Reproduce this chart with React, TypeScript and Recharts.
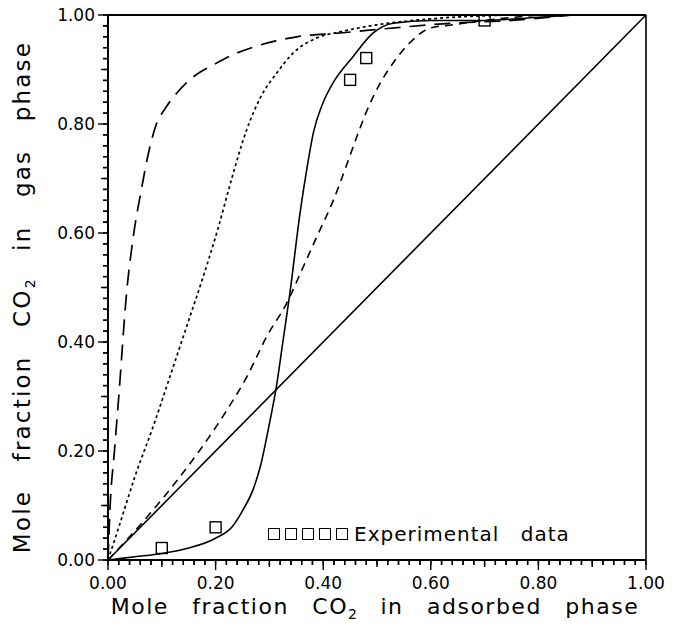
import React from 'react';
import { ComposedChart, Line, XAxis, YAxis, ReferenceLine } from 'recharts';

// diagonal x = y
const diagX = [0, 1];
const diagY = [0, 1];

// solid model curve
const solidX = [0, 0.05, 0.1, 0.15, 0.2, 0.23, 0.251, 0.27, 0.283, 0.3, 0.313, 0.325, 0.338, 0.357, 0.37, 0.382, 0.398, 0.418, 0.455, 0.493, 0.53, 0.6, 0.7, 0.8, 0.87];
const solidY = [0, 0.006, 0.012, 0.022, 0.04, 0.06, 0.092, 0.13, 0.171, 0.25, 0.318, 0.4, 0.489, 0.637, 0.72, 0.785, 0.835, 0.875, 0.923, 0.967, 0.985, 0.99, 0.99, 0.996, 1.0];

// long dashed curve
const longX = [0, 0.004, 0.012, 0.02, 0.035, 0.047, 0.063, 0.076, 0.09, 0.106, 0.128, 0.158, 0.195, 0.232, 0.27, 0.31, 0.351, 0.431, 0.55, 0.64, 0.75, 0.86];
const longY = [0, 0.1, 0.2, 0.3, 0.495, 0.593, 0.685, 0.75, 0.8, 0.828, 0.857, 0.886, 0.908, 0.927, 0.941, 0.952, 0.96, 0.967, 0.978, 0.985, 0.99, 1.0];

// dotted curve
const dotX = [0, 0.02, 0.05, 0.084, 0.115, 0.146, 0.177, 0.205, 0.23, 0.258, 0.283, 0.314, 0.344, 0.388, 0.431, 0.5, 0.6, 0.75];
const dotY = [0, 0.06, 0.153, 0.245, 0.336, 0.428, 0.52, 0.61, 0.7, 0.79, 0.848, 0.894, 0.93, 0.958, 0.969, 0.982, 0.993, 1.0];

// short dashed curve
const shortX = [0, 0.084, 0.134, 0.171, 0.221, 0.258, 0.295, 0.332, 0.363, 0.388, 0.418, 0.444, 0.463, 0.481, 0.506, 0.53, 0.561, 0.599, 0.641, 0.7, 0.8];
const shortY = [0, 0.092, 0.153, 0.202, 0.275, 0.336, 0.41, 0.471, 0.538, 0.593, 0.658, 0.726, 0.778, 0.824, 0.875, 0.912, 0.949, 0.976, 0.982, 0.99, 1.0];

// experimental data
const expX = [0.1, 0.2, 0.45, 0.48, 0.7];
const expY = [0.022, 0.06, 0.881, 0.921, 0.99];

const majorLabels = ['0.00', '0.20', '0.40', '0.60', '0.80', '1.00'];
const axisTicks = Array.from({ length: 51 }, (_, i) => i / 50);

const pts = (xs: number[], ys: number[]) => xs.map((x, i) => ({ x, y: ys[i] }));

const FONT = '"DejaVu Sans", sans-serif';
const TICK = 5;

// tick length in px: 10 labelled, 7 half step, 5 otherwise
const tickLen = (v: number) => {
  const n = Math.round(v * 50);
  if (n % 10 === 0) return 10;
  if (n % 5 === 0) return 7;
  return 5;
};
const labelOf = (v: number) => {
  const n = Math.round(v * 50);
  return n % 10 === 0 ? majorLabels[n / 10] : null;
};

// y passed in is axis line + TICK
const renderXTick = (props: any) => {
  const { x, y, payload } = props;
  const v = payload.value;
  const lab = labelOf(v);
  return (
    <g>
      <line x1={x} x2={x} y1={y - TICK} y2={y - TICK + tickLen(v)} stroke="black" strokeWidth={1.4} />
      {lab && (
        <text x={x} y={y + 24} textAnchor="middle" fontSize={17} fontFamily={FONT} fill="#000" stroke="none">
          {lab}
        </text>
      )}
    </g>
  );
};

// x passed in is axis line - TICK
const renderYTick = (props: any) => {
  const { x, y, payload } = props;
  const v = payload.value;
  const lab = labelOf(v);
  return (
    <g>
      <line x1={x + TICK} x2={x + TICK - tickLen(v)} y1={y} y2={y} stroke="black" strokeWidth={1.4} />
      {lab && (
        <text x={x - 8} y={y + 6} textAnchor="end" fontSize={17} fontFamily={FONT} fill="#000" stroke="none">
          {lab}
        </text>
      )}
    </g>
  );
};

const squareDot = (props: any) => {
  const { cx, cy, index } = props;
  return <rect key={`sq${index}`} x={cx - 5.5} y={cy - 5.5} width={11} height={11} fill="none" stroke="#000" strokeWidth={1.4} />;
};

const sub: React.CSSProperties = { fontSize: 14, verticalAlign: -5, letterSpacing: 0 };

export default function App() {
  return (
    <div style={{ position: 'absolute', left: 0, top: 0, width: 680, height: 629, background: '#fff' }}>
      <ComposedChart width={680} height={629} margin={{ top: 15, right: 34, bottom: 0, left: 0 }}>
        <XAxis
          type="number"
          dataKey="x"
          domain={[0, 1]}
          ticks={axisTicks}
          interval={0}
          tickSize={TICK}
          tickMargin={0}
          tickLine={{ stroke: 'black', strokeWidth: 1.4 }}
          tick={renderXTick}
          height={69}
          axisLine={{ stroke: 'black', strokeWidth: 2 }}
        />
        <YAxis
          type="number"
          dataKey="y"
          domain={[0, 1]}
          ticks={axisTicks}
          interval={0}
          tickSize={TICK}
          tickMargin={0}
          tickLine={{ stroke: 'black', strokeWidth: 1.4 }}
          tick={renderYTick}
          width={108}
          axisLine={{ stroke: 'black', strokeWidth: 2 }}
        />
        <ReferenceLine y={1} stroke="#000" strokeWidth={2} />
        <ReferenceLine x={1} stroke="#000" strokeWidth={1.6} />
        <Line data={pts(diagX, diagY)} dataKey="y" type="linear" stroke="#000" strokeWidth={1.6} dot={false} isAnimationActive={false} />
        <Line data={pts(solidX, solidY)} dataKey="y" type="monotone" stroke="#000" strokeWidth={1.6} dot={false} isAnimationActive={false} />
        <Line data={pts(longX, longY)} dataKey="y" type="monotone" stroke="#000" strokeWidth={1.7} strokeDasharray="16 9" dot={false} isAnimationActive={false} />
        <Line data={pts(dotX, dotY)} dataKey="y" type="monotone" stroke="#000" strokeWidth={1.7} strokeDasharray="3 3" dot={false} isAnimationActive={false} />
        <Line data={pts(shortX, shortY)} dataKey="y" type="monotone" stroke="#000" strokeWidth={1.6} strokeDasharray="8 6" dot={false} isAnimationActive={false} />
        <Line data={pts(expX, expY)} dataKey="y" type="linear" stroke="none" dot={squareDot} activeDot={false} isAnimationActive={false} />
      </ComposedChart>

      {/* legend */}
      <div style={{ position: 'absolute', left: 268, top: 522, display: 'flex', alignItems: 'center', fontFamily: FONT, fontSize: 20, letterSpacing: 1, wordSpacing: 14, whiteSpace: 'nowrap' }}>
        {[0, 1, 2, 3, 4].map((i) => (
          <span key={i} style={{ display: 'inline-block', width: 10, height: 10, border: '1.4px solid #000', marginRight: 5 }} />
        ))}
        <span style={{ marginLeft: 1 }}>Experimental data</span>
      </div>

      {/* x title */}
      <div style={{ position: 'absolute', fontFamily: FONT, fontSize: 22, letterSpacing: 1.5, wordSpacing: 15, whiteSpace: 'nowrap', left: 0, width: 680, textAlign: 'center', top: 594, paddingLeft: 70, boxSizing: 'border-box' }}>
        Mole fraction CO<span style={sub}>2</span> in adsorbed phase
      </div>

      {/* y title */}
      <div style={{ position: 'absolute', fontFamily: FONT, fontSize: 23, letterSpacing: 2.2, wordSpacing: 19, whiteSpace: 'nowrap', left: 23, top: 297, transform: 'translate(-50%, -50%) rotate(-90deg)' }}>
        Mole fraction CO<span style={sub}>2</span> in gas phase
      </div>
    </div>
  );
}
